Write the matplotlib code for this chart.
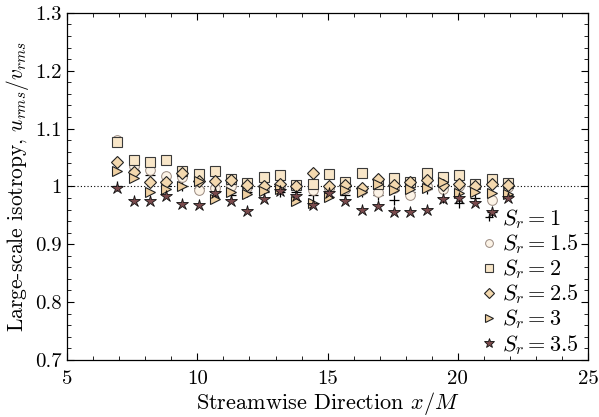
import matplotlib
matplotlib.use("Agg")
import matplotlib.pyplot as plt
from matplotlib.ticker import MultipleLocator, FuncFormatter

plt.rcParams['font.family'] = ['cmr10', 'DejaVu Serif']
plt.rcParams['mathtext.fontset'] = 'cm'
plt.rcParams['axes.formatter.use_mathtext'] = True

x = [6.92, 7.55, 8.17, 8.80, 9.42, 10.05, 10.67, 11.30, 11.92, 12.55, 13.17,
     13.80, 14.42, 15.05, 15.67, 16.30, 16.92, 17.55, 18.17, 18.80, 19.42,
     20.05, 20.67, 21.30, 21.92]

sr1 = [1.000, 1.029, 1.020, 1.000, 1.000, 0.998, 0.990, 0.985, 0.990, 0.990, 0.990,
       0.990, 0.985, 0.995, 0.985, 0.990, 0.985, 0.977, 0.990, 0.995, 0.980,
       0.972, 0.980, 0.955, 0.985]
sr15 = [1.080, 1.035, 1.029, 1.018, 1.016, 0.994, 0.997, 1.000, 0.999, 0.998, 1.000,
        1.003, 0.993, 0.997, 0.996, 0.993, 0.991, 0.998, 0.985, 1.000, 0.995,
        1.000, 1.004, 0.976, 0.999]
sr2 = [1.077, 1.046, 1.042, 1.045, 1.026, 1.022, 1.026, 1.013, 1.006, 1.017, 1.020,
       1.002, 1.004, 1.021, 1.007, 1.023, 1.005, 1.014, 1.008, 1.024, 1.016,
       1.020, 1.004, 1.012, 1.006]
sr25 = [1.042, 1.025, 1.007, 1.008, 1.023, 1.010, 1.009, 1.011, 1.002, 1.000, 1.005,
        1.001, 1.024, 1.000, 1.003, 0.998, 1.012, 1.003, 1.008, 1.011, 1.002,
        1.005, 1.000, 1.005, 1.003]
sr3 = [1.027, 1.015, 0.991, 0.996, 1.000, 1.010, 0.978, 0.990, 0.986, 0.992, 0.996,
       0.974, 0.971, 0.982, 0.994, 0.991, 1.005, 0.994, 0.995, 0.997, 1.007,
       0.988, 0.990, 0.988, 0.986]
sr35 = [0.997, 0.975, 0.975, 0.984, 0.970, 0.967, 0.988, 0.974, 0.957, 0.979, 0.992,
        0.984, 0.968, 0.989, 0.974, 0.960, 0.966, 0.956, 0.956, 0.959, 0.978,
        0.980, 0.972, 0.955, 0.980]

labels = [r'$S_r = 1$', r'$S_r = 1.5$', r'$S_r = 2$', r'$S_r = 2.5$', r'$S_r = 3$', r'$S_r = 3.5$']

fig = plt.figure(figsize=(5.99, 4.17), dpi=100)
ax = fig.add_axes([0.112, 0.137, 0.870, 0.832])

ax.axhline(1.0, color='black', lw=0.8, ls=(0, (1, 2)), zorder=1)

ax.plot(x, sr1, ls='none', marker='+', ms=7, mew=0.9, color='black', label=labels[0], zorder=2)
ax.plot(x, sr15, ls='none', marker='o', ms=7, mew=0.7, mfc='#fcf3e6', mec='#9a8a80', label=labels[1], zorder=3)
ax.plot(x, sr2, ls='none', marker='s', ms=6.5, mew=0.8, mfc='#f8e6c8', mec='#3a3a3a', label=labels[2], zorder=4)
ax.plot(x, sr25, ls='none', marker='D', ms=6, mew=0.8, mfc='#f3d8ae', mec='#222222', label=labels[3], zorder=5)
ax.plot(x, sr3, ls='none', marker='>', ms=7.5, mew=0.8, mfc='#efd0a2', mec='#222222', label=labels[4], zorder=6)
ax.plot(x, sr35, ls='none', marker='*', ms=9, mew=0.6, mfc='#7a4a4c', mec='#111111', label=labels[5], zorder=7)

ax.set_xlim(5, 25)
ax.set_ylim(0.7, 1.3)
ax.xaxis.set_major_locator(MultipleLocator(5))
ax.xaxis.set_minor_locator(MultipleLocator(1))
ax.yaxis.set_major_locator(MultipleLocator(0.1))
ax.yaxis.set_minor_locator(MultipleLocator(0.02))

def fmt(v, pos):
    s = ('%.1f' % v).rstrip('0').rstrip('.')
    return s
ax.xaxis.set_major_formatter(FuncFormatter(lambda v, p: '%d' % round(v)))
ax.yaxis.set_major_formatter(FuncFormatter(fmt))

ax.tick_params(which='both', direction='in', top=True, right=True, labelsize=15)
ax.tick_params(axis='x', which='major', pad=7)
ax.tick_params(axis='y', which='major', pad=4)
ax.tick_params(which='major', length=5, width=0.8)
ax.tick_params(which='minor', length=3, width=0.6)
for s in ax.spines.values():
    s.set_linewidth(0.9)

ax.set_xlabel(r'Streamwise Direction $x/M$', fontsize=16, labelpad=2)
ax.set_ylabel(r'Large-scale isotropy, $u_{rms}/v_{rms}$', fontsize=15.5, labelpad=3)

leg = ax.legend(loc='lower right', bbox_to_anchor=(0.988, 0.0), frameon=False, fontsize=16,
                handlelength=0.6, handletextpad=0.3, labelspacing=0.06, borderaxespad=0.0,
                borderpad=0.15, markerscale=0.8)

fig.savefig('out.png', dpi=100)
